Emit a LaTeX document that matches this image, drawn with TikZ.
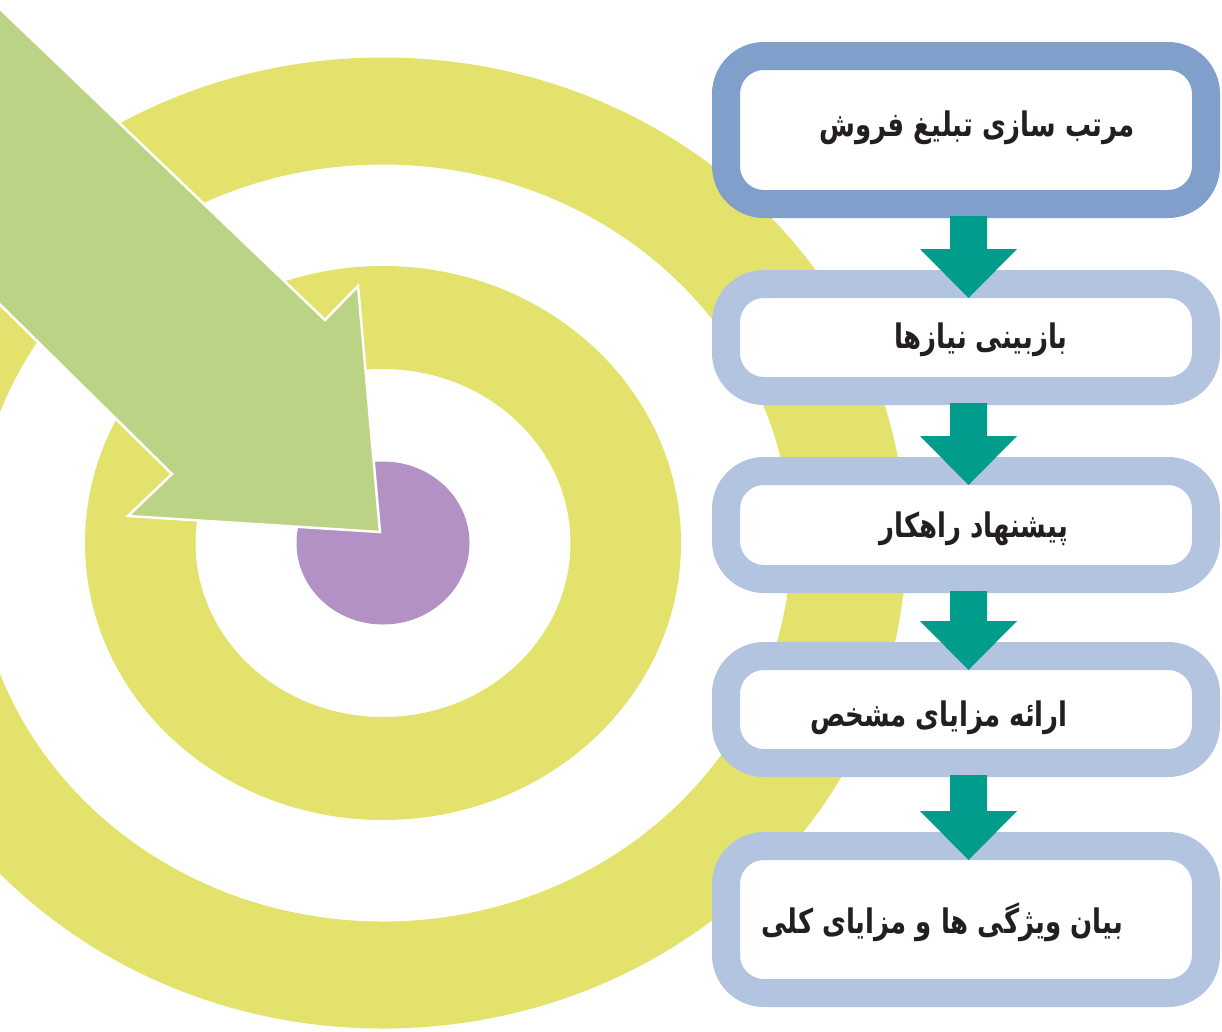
\documentclass[tikz,border=0pt]{standalone}
\usepackage{fontspec}
\newfontfamily\fa[Script=Arabic]{DejaVu Sans}
\TeXXeTstate=1
\usetikzlibrary{calc}
\definecolor{ringyellow}{HTML}{E2E26C}
\definecolor{arrowgreen}{HTML}{BBD384}
\definecolor{bullpurple}{HTML}{B491C4}
\definecolor{topblue}{HTML}{819FCB}
\definecolor{stepblue}{HTML}{B3C4E0}
\definecolor{flowteal}{HTML}{009C8C}
\definecolor{inktext}{HTML}{231F20}
% right-to-left step caption, set a little taller than the font's own shape
\newcommand\steplabel[1]{\scalebox{1}[1.3]{\beginR #1\endR}}
\begin{document}
\begin{tikzpicture}[x=1pt,y=-1pt,
  stepbox/.style={draw=stepblue, fill=white, line width=28pt, rounded corners=38pt,
    minimum width=480pt, inner sep=0pt},
  steptext/.style={font=\fa\bfseries\fontsize{26}{31}\selectfont, inner sep=0pt,
    anchor=base east, text=inktext},
  flowarrow/.style={fill=flowteal}]
\useasboundingbox (0,0) rectangle (1222,1031);
\clip (0,0) rectangle (1222,1031);

% target rings and bull's-eye
\coordinate (c) at (383,543);
\fill[ringyellow, even odd rule]
  (c) ellipse [x radius=523pt, y radius=485.5pt]
  (c) ellipse [x radius=408pt, y radius=378.5pt];
\fill[ringyellow, even odd rule]
  (c) ellipse [x radius=298pt, y radius=277pt]
  (c) ellipse [x radius=187.5pt, y radius=174pt];
\fill[bullpurple] (c) ellipse [x radius=86.5pt, y radius=81.5pt];

% big arrow pointing at the centre
\filldraw[fill=arrowgreen, draw=white, line width=2.5pt, line join=miter]
  (-30,-20) -- (325,320) -- (358,286) -- (380,532) -- (128,516)
  -- (172,474) -- (-30,275) -- cycle;

% process steps
\node[stepbox, draw=topblue, minimum height=148pt] (b1) at (966,130) {};
\node[stepbox, minimum height=107pt] (b2) at (966,337.5) {};
\node[stepbox, minimum height=108pt] (b3) at (966,525) {};
\node[stepbox, minimum height=107pt] (b4) at (966,709.5) {};
\node[stepbox, minimum height=147pt] (b5) at (966,919.5) {};

\node[steptext] (t1) at (1135,136) {\steplabel{مرتب سازی تبلیغ فروش}};
\node[steptext] (t2) at (1068,348) {\steplabel{بازبینی نیازها}};
\node[steptext] (t3) at (1068,537) {\steplabel{پیشنهاد راهکار}};
\node[steptext] (t4) at (1068,726) {\steplabel{ارائه مزایای مشخص}};
\node[steptext] (t5) at (1123,933) {\steplabel{بیان ویژگی ها و مزایای کلی}};

% connectors between the steps
\foreach \a/\b in {b1/b2, b2/b3, b3/b4, b4/b5} {
  \fill[flowarrow]
    ($(\a.south)+(-16,-2)$) -- ($(\a.south)+(21,-2)$)
    -- ($(\b.north)+(21,-21)$) -- ($(\b.north)+(51,-21)$)
    -- ($(\b.north)+(2.5,28)$)
    -- ($(\b.north)+(-46,-21)$) -- ($(\b.north)+(-16,-21)$) -- cycle;
}
\end{tikzpicture}
\end{document}
